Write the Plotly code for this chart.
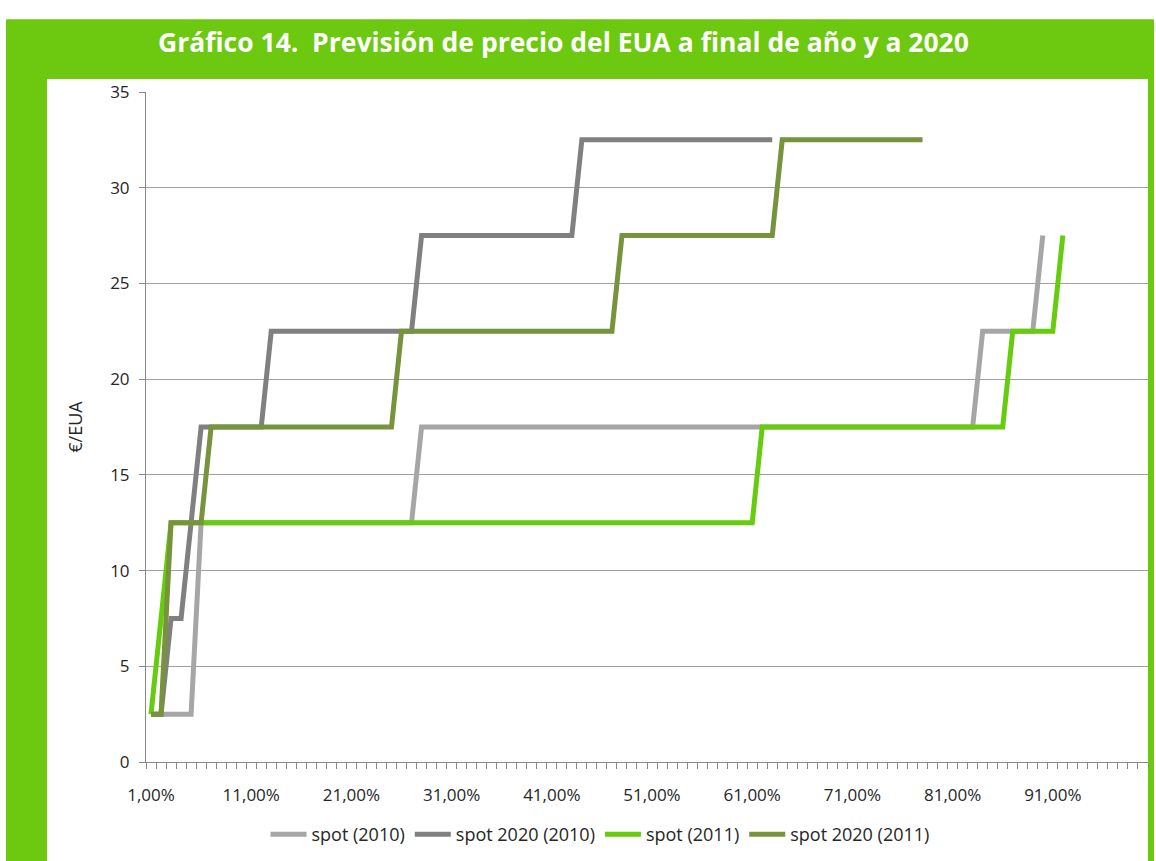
import plotly.graph_objects as go

# ---- data (breakpoints of each step series; x = percentile category 1..100) ----
spot_2010_x = [1, 5, 6, 27, 28, 83, 84, 89, 90]
spot_2010_y = [2.5, 2.5, 12.5, 12.5, 17.5, 17.5, 22.5, 22.5, 27.5]

spot2020_2010_x = [1, 2, 3, 4, 5, 6, 12, 13, 27, 28, 43, 44, 63]
spot2020_2010_y = [2.5, 2.5, 7.5, 7.5, 12.5, 17.5, 17.5, 22.5, 22.5, 27.5, 27.5, 32.5, 32.5]

spot_2011_x = [1, 2, 3, 61, 62, 86, 87, 91, 92]
spot_2011_y = [2.5, 7.5, 12.5, 12.5, 17.5, 17.5, 22.5, 22.5, 27.5]

spot2020_2011_x = [1, 2, 3, 6, 7, 25, 26, 47, 48, 63, 64, 78]
spot2020_2011_y = [2.5, 2.5, 12.5, 12.5, 17.5, 17.5, 22.5, 22.5, 27.5, 27.5, 32.5, 32.5]

tick_positions = [1, 11, 21, 31, 41, 51, 61, 71, 81, 91]
tick_labels = ["1,00%", "11,00%", "21,00%", "31,00%", "41,00%",
               "51,00%", "61,00%", "71,00%", "81,00%", "91,00%"]

series = [
    ("spot (2010)", spot_2010_x, spot_2010_y, "#A6A6A6"),
    ("spot 2020 (2010)", spot2020_2010_x, spot2020_2010_y, "#808080"),
    ("spot (2011)", spot_2011_x, spot_2011_y, "#66CC0E"),
    ("spot 2020 (2011)", spot2020_2011_x, spot2020_2011_y, "#77933C"),
]

W, H = 1156, 861
L, R, T, B = 146, 1148, 92, 765  # plot area in pixels


def px(x):
    return (x - L) / (R - L)


def py(y):
    return (B - y) / (B - T)


GREEN = "#6DC90F"
FONT = "Open Sans"

fig = go.Figure()
for name, xs, ys, col in series:
    fig.add_trace(go.Scatter(
        x=xs, y=ys, mode="lines", name=name,
        line=dict(color=col, width=5, shape="linear"),
    ))

shapes = [
    dict(type="rect", xref="paper", yref="paper", layer="below",
         x0=px(6), x1=px(1154), y0=py(870), y1=py(19),
         fillcolor=GREEN, line=dict(width=0)),
    dict(type="rect", xref="paper", yref="paper", layer="below",
         x0=px(47), x1=px(1148), y0=py(870), y1=py(79),
         fillcolor="white", line=dict(width=0)),
]

fig.update_layout(
    width=W, height=H,
    margin=dict(l=L, r=W - R, t=T, b=H - B, pad=0),
    paper_bgcolor="white",
    plot_bgcolor="rgba(0,0,0,0)",
    shapes=shapes,
    font=dict(family=FONT, size=15, color="#262626"),
    showlegend=True,
    legend=dict(orientation="h", x=px(600), xanchor="center",
                y=py(838), yanchor="middle",
                font=dict(family=FONT, size=18, color="#262626"),
                itemwidth=36, tracegroupgap=0,
                bgcolor="rgba(0,0,0,0)"),
    annotations=[
        dict(text="<b>Gráfico 14.  Previsión de precio del EUA a final de año y a 2020</b>",
             xref="paper", yref="paper", x=px(563), y=py(42),
             xanchor="center", yanchor="middle", showarrow=False,
             font=dict(family=FONT, size=26.5, color="white")),
    ],
)

fig.update_xaxes(
    range=[0.5, 100.5],
    tickmode="array", tickvals=tick_positions, ticktext=tick_labels,
    ticks="", showgrid=False, zeroline=False,
    showline=True, linecolor="#888888", linewidth=1,
    ticklabelstandoff=18,
    tickfont=dict(family=FONT, size=17, color="#262626"),
    minor=dict(tickmode="linear", tick0=0.5, dtick=1, ticks="outside",
               ticklen=6, tickcolor="#888888", tickwidth=1, showgrid=False),
)

fig.update_yaxes(
    range=[0, 35], tickmode="linear", tick0=0, dtick=5,
    showgrid=True, gridcolor="#A0A0A0", gridwidth=1,
    zeroline=False, showline=True, linecolor="#888888", linewidth=1,
    ticks="outside", ticklen=6, tickcolor="#888888",
    ticklabelstandoff=6,
    tickfont=dict(family=FONT, size=17, color="#262626"),
    title=dict(text="€/EUA", font=dict(family=FONT, size=18, color="#262626"),
               standoff=22),
)

fig.write_html("out.html", config={"displayModeBar": False},
               post_script="document.body.style.margin='0';document.body.style.padding='0';")
